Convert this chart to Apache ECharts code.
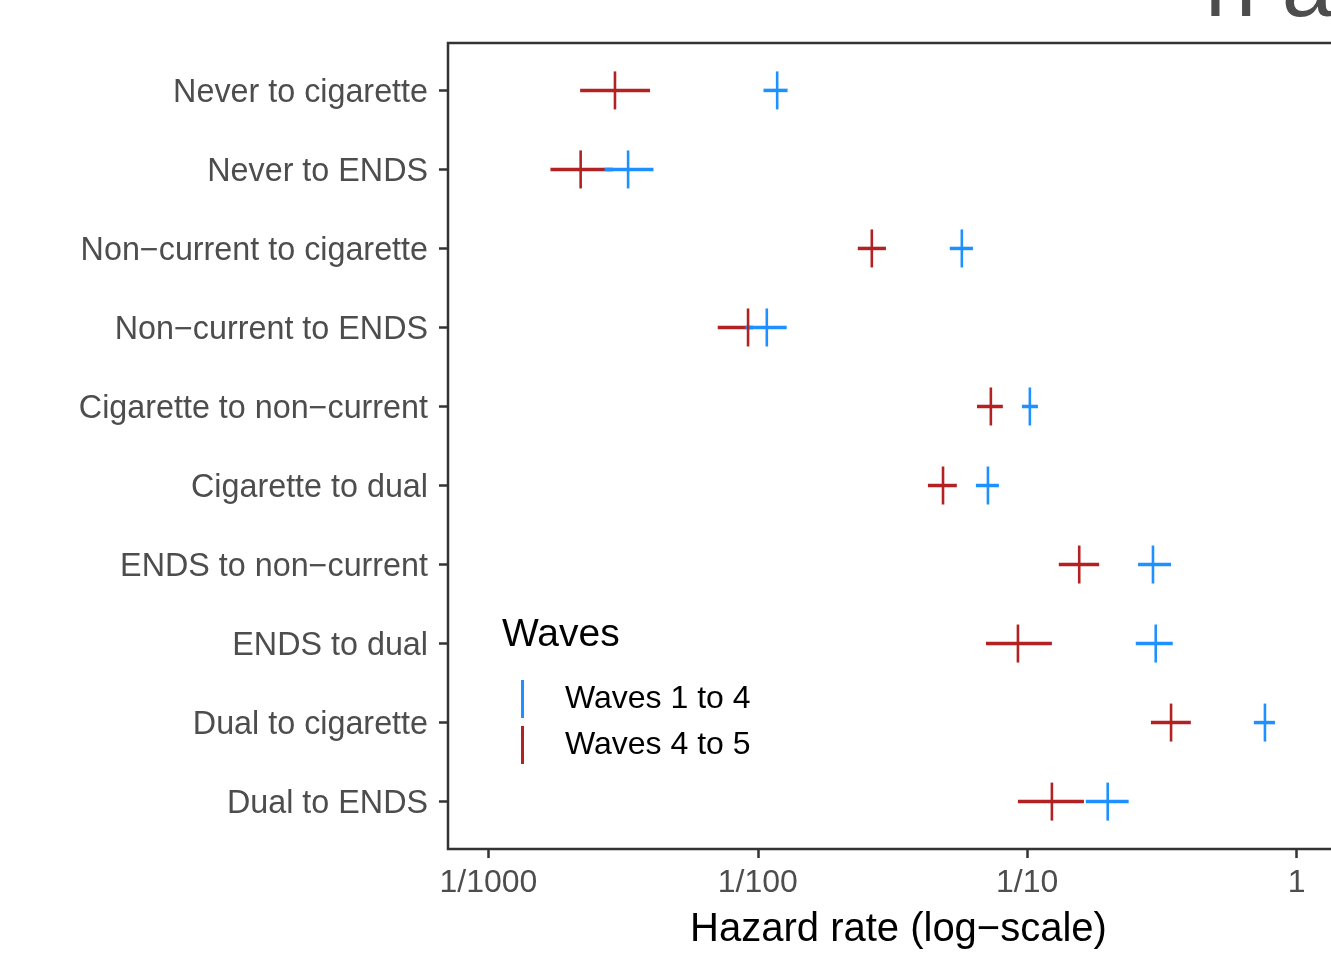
<!DOCTYPE html>
<html>
<head>
<meta charset="utf-8">
<script src="https://cdn.jsdelivr.net/npm/echarts@6/dist/echarts.min.js"></script>
<style>
html,body{margin:0;padding:0;background:#fff;}
#chart{width:1331px;height:957px;}
</style>
</head>
<body>
<div id="chart"></div>
<script>
// Categories (top to bottom)
var categories = [
  'Never to cigarette', 'Never to ENDS', 'Non\u2212current to cigarette', 'Non\u2212current to ENDS',
  'Cigarette to non\u2212current', 'Cigarette to dual', 'ENDS to non\u2212current', 'ENDS to dual',
  'Dual to cigarette', 'Dual to ENDS'
];
// Waves 1 to 4 (blue): estimate, lower, upper hazard rates
var w14Est = [0.0118, 0.0033, 0.0572, 0.0108, 0.1023, 0.0715, 0.293, 0.300, 0.763, 0.199];
var w14Lo  = [0.0105, 0.0027, 0.0516, 0.0090, 0.0956, 0.0645, 0.258, 0.253, 0.694, 0.165];
var w14Hi  = [0.0129, 0.0041, 0.0629, 0.0128, 0.1096, 0.0785, 0.342, 0.347, 0.831, 0.238];
// Waves 4 to 5 (red)
var w45Est = [0.00295, 0.0022, 0.0265, 0.0092, 0.0733, 0.0487, 0.156, 0.0924, 0.342, 0.1235];
var w45Lo  = [0.00219, 0.0017, 0.0235, 0.0071, 0.0651, 0.0428, 0.131, 0.0703, 0.288, 0.0924];
var w45Hi  = [0.00398, 0.0029, 0.0299, 0.0096, 0.0812, 0.0548, 0.185, 0.1235, 0.405, 0.1624];
// X tick values and labels
var xTickValues = [0.001, 0.01, 0.1, 1];
var xTickLabels = ['1/1000', '1/100', '1/10', '1'];

var BLUE = '#1E90FF', RED = '#B22222';
var FONT = "'Liberation Sans', Arial, sans-serif";

function rows(est, lo, hi) {
  return categories.map(function (c, i) { return [lo[i], hi[i], est[i], i]; });
}

function hBar(color) {
  return function (params, api) {
    var a = api.coord([api.value(0), api.value(3)]);
    var b = api.coord([api.value(1), api.value(3)]);
    return { type: 'line', shape: { x1: a[0], y1: a[1], x2: b[0], y2: b[1] },
      style: { stroke: color, lineWidth: 3.5 } };
  };
}
function vTick(color) {
  return function (params, api) {
    var p = api.coord([api.value(2), api.value(3)]);
    return { type: 'line', shape: { x1: p[0], y1: p[1] - 19, x2: p[0], y2: p[1] + 19 },
      style: { stroke: color, lineWidth: 2.6 } };
  };
}

var chart = echarts.init(document.getElementById('chart'), null, { renderer: 'canvas' });
var option = {
  backgroundColor: '#fff',
  animation: false,
  textStyle: { fontFamily: FONT },
  grid: { left: 448, top: 43, width: 889, height: 806, show: true, borderColor: '#333', borderWidth: 2.5,
          backgroundColor: '#fff', containLabel: false, outerBoundsMode: 'none' },
  xAxis: {
    type: 'log', logBase: 10,
    min: Math.pow(10, -3.15), max: Math.pow(10, 0.15),
    axisLine: { show: false, onZero: false },
    splitLine: { show: false },
    minorTick: { show: false },
    axisTick: { show: true, customValues: xTickValues, length: 9, lineStyle: { color: '#333', width: 2.5 } },
    axisLabel: {
      customValues: xTickValues, margin: 18, fontSize: 32, color: '#4d4d4d', fontFamily: FONT,
      formatter: function (v) { var k = Math.round(Math.log10(v)) + 3; return xTickLabels[k]; }
    },
    name: 'Hazard rate (log\u2212scale)', nameLocation: 'middle', nameGap: 61,
    nameTextStyle: { fontSize: 40, color: '#000', fontFamily: FONT, padding: [0, 0, 0, 12] }
  },
  yAxis: {
    type: 'value', inverse: true, min: -0.6, max: 9.6,
    axisLine: { show: false, onZero: false },
    splitLine: { show: false },
    axisTick: { show: true, customValues: categories.map(function (c, i) { return i; }), length: 9, lineStyle: { color: '#333', width: 2.5 } },
    axisLabel: {
      customValues: categories.map(function (c, i) { return i + 0.035; }),
      margin: 20, fontSize: 32.3, color: '#4d4d4d', fontFamily: FONT,
      formatter: function (v) { return categories[Math.round(v)]; }
    }
  },
  legend: {
    data: ['Waves 1 to 4', 'Waves 4 to 5'],
    orient: 'vertical', left: 521, top: 680, padding: 0,
    icon: 'rect', itemWidth: 3, itemHeight: 38, itemGap: 8,
    textStyle: { fontSize: 32, color: '#000', fontFamily: FONT, padding: [0, 0, 0, 36] },
    selectedMode: false
  },
  graphic: [
    { type: 'text', left: 502, top: 616, style: { text: 'Waves', fontSize: 39, fill: '#000', fontFamily: FONT } },
    { type: 'text', left: 1205, top: -55, style: { text: 'n a', fontSize: 92, fill: '#4d4d4d', fontFamily: FONT } }
  ],
  series: [
    { type: 'custom', name: 'Waves 4 to 5', itemStyle: { color: RED }, renderItem: hBar(RED), data: rows(w45Est, w45Lo, w45Hi), encode: { x: [0, 1, 2], y: 3 } },
    { type: 'custom', name: 'Waves 1 to 4', itemStyle: { color: BLUE }, renderItem: hBar(BLUE), data: rows(w14Est, w14Lo, w14Hi), encode: { x: [0, 1, 2], y: 3 } },
    { type: 'custom', name: 'Waves 4 to 5', itemStyle: { color: RED }, renderItem: vTick(RED), data: rows(w45Est, w45Lo, w45Hi), encode: { x: [0, 1, 2], y: 3 } },
    { type: 'custom', name: 'Waves 1 to 4', itemStyle: { color: BLUE }, renderItem: vTick(BLUE), data: rows(w14Est, w14Lo, w14Hi), encode: { x: [0, 1, 2], y: 3 } }
  ]
};
chart.setOption(option);
</script>
</body>
</html>
